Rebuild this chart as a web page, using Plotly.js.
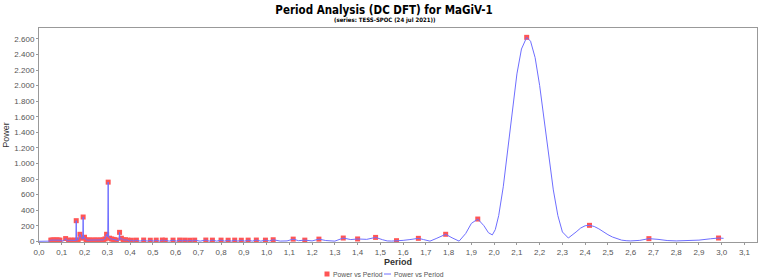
<!DOCTYPE html>
<html>
<head>
<meta charset="utf-8">
<script src="https://cdn.plot.ly/plotly-3.0.1.min.js"></script>
<style>
html,body{margin:0;padding:0;background:#fff;}
#chart{width:763px;height:280px;}
</style>
</head>
<body>
<div id="chart"></div>
<script>
// ---- Data ----
const chartTitle = "Period Analysis (DC DFT) for MaGiV-1";
const chartSubtitle = "(series: TESS-SPOC (24 jul 2021))";
const xLabel = "Period";
const yLabel = "Power";
const seriesName = "Power vs Period";

// Marked local maxima (red squares)
const peakPeriod = [0.052,0.057,0.062,0.067,0.072,0.077,0.082,0.087,0.092,
  0.117,0.130,0.140,0.150,0.158,0.1636,0.172,0.180,0.187,0.194,0.200,
  0.207,0.215,0.222,0.230,0.238,0.245,0.253,0.260,0.268,0.275,0.283,0.290,
  0.297,0.304,0.310,0.318,0.325,0.333,0.340,0.354,0.362,0.370,0.380,0.390,
  0.406,0.428,0.460,0.489,0.515,0.542,0.555,
  0.589,0.618,0.640,0.662,0.684,0.733,0.762,0.800,0.831,0.860,0.889,0.919,
  0.955,0.995,1.029,1.117,1.168,1.230,1.337,1.400,1.479,1.571,1.667,1.787,
  1.928,2.143,2.419,2.680,2.986];
const peakPower = [15,14,16,15,14,16,15,14,15,
  35,14,15,13,15,265,20,90,40,312,52,
  18,15,16,15,14,16,15,14,16,15,18,30,
  90,760,40,30,25,20,15,115,40,18,20,15,
  14,15,16,14,15,16,14,
  15,16,15,14,15,16,15,15,14,15,14,15,
  16,15,20,28,15,28,42,30,50,8,38,90,
  286,2620,205,34,42];

// Power spectrum curve (blue line)
const curvePeriod = [0.000,0.045,0.052,0.057,0.062,0.067,0.072,0.077,0.082,0.087,0.092,
  0.100,0.110,0.117,0.124,0.130,0.140,0.150,0.158,0.162,0.1636,0.1652,0.172,0.180,
  0.186,0.1925,0.194,0.1955,0.200,0.207,0.215,0.222,0.230,0.238,0.245,0.253,0.260,
  0.268,0.275,0.283,0.290,0.297,0.302,0.304,0.306,0.310,0.318,0.325,0.333,0.340,
  0.350,0.352,0.354,0.356,0.362,0.370,0.380,0.390,0.398,0.406,0.417,0.428,0.444,
  0.460,0.475,0.489,0.502,0.515,0.530,0.542,0.548,0.555,0.572,0.589,0.603,0.618,
  0.629,0.640,0.651,0.662,0.673,0.684,0.708,0.733,0.748,0.762,0.781,0.800,0.815,
  0.831,0.845,0.860,0.874,0.889,0.904,0.919,0.937,0.955,0.975,0.995,1.012,1.029,
  1.060,1.090,1.117,1.140,1.168,1.200,1.230,1.260,1.300,1.337,1.370,1.400,1.440,
  1.479,1.510,1.530,1.550,1.571,1.600,1.630,1.667,1.690,1.718,1.745,1.770,1.787,
  1.815,1.846,1.875,1.900,1.928,1.955,1.975,1.992,2.005,2.020,2.040,2.060,2.080,
  2.100,2.120,2.143,2.160,2.180,2.200,2.220,2.240,2.260,2.280,2.300,2.326,2.340,
  2.360,2.380,2.400,2.419,2.440,2.460,2.480,2.500,2.520,2.540,2.560,2.580,2.600,
  2.640,2.680,2.720,2.760,2.800,2.850,2.900,2.950,2.986,3.008];
const curvePower = [0,2,15,14,16,15,14,16,15,14,15,
  3,8,35,5,14,15,13,15,12,265,14,20,90,
  40,30,312,40,52,18,15,16,15,14,16,15,14,
  16,15,18,30,90,60,760,50,40,30,25,20,15,
  8,20,115,20,40,18,20,15,2,14,2,15,2,
  16,2,14,2,15,2,16,3,14,2,15,2,16,
  2,15,2,14,2,15,2,16,2,15,2,15,2,
  14,2,15,2,14,2,15,2,16,2,15,5,20,
  3,5,28,8,15,5,28,10,2,42,22,30,25,
  50,20,5,3,4,12,22,38,22,2,35,70,90,
  45,2,100,230,286,200,110,82,150,330,700,1180,1700,
  2150,2470,2620,2570,2360,2000,1550,1080,660,330,120,42,70,
  120,170,200,205,190,160,120,85,55,30,15,8,5,
  12,34,25,10,5,6,15,32,42,38];

// ---- Chart ----
const markerColor = "#ff5555";
const lineColor = "#6e6eff";
const sans = "'Liberation Sans', Arial, sans-serif";
const narrow = "'DejaVu Sans Condensed', 'Liberation Sans', sans-serif";
const tickFont = {family: sans, size: 8, color: "#555"};

// plot-area geometry (pixels) used to place title block and hand-made legend
const M = {l: 39, r: 6, t: 28, b: 38};
const PW = 763 - M.l - M.r, PH = 280 - M.t - M.b;
const px = v => (v - M.l) / PW;
const py = v => (280 - M.b - v) / PH;

const traces = [
  {
    x: peakPeriod, y: peakPower, type: "scatter", mode: "markers",
    name: seriesName, showlegend: false,
    marker: {symbol: "square", size: 5, color: markerColor}
  },
  {
    x: curvePeriod, y: curvePower, type: "scatter", mode: "lines",
    name: seriesName, showlegend: false,
    line: {color: lineColor, width: 1}
  }
];

const legendY = 274;
const legendFont = {family: sans, size: 6.8, color: "#555"};
const layout = {
  width: 763, height: 280,
  margin: M,
  paper_bgcolor: "#fff", plot_bgcolor: "#fff",
  separators: ",.",
  showlegend: false,
  title: {
    text: "<b>" + chartTitle + "</b>",
    font: {family: narrow, size: 11.5, color: "#000"},
    x: 384 / 763, xref: "container", xanchor: "center",
    y: 1 - 10 / 280, yref: "container", yanchor: "middle"
  },
  annotations: [
    {
      text: "<b>" + chartSubtitle + "</b>",
      xref: "paper", yref: "paper", x: px(384), y: py(20.5),
      xanchor: "center", yanchor: "middle", showarrow: false,
      font: {family: narrow, size: 6, color: "#000"}
    },
    {
      text: seriesName, xref: "paper", yref: "paper",
      x: px(330.5), y: py(legendY), xanchor: "left", yanchor: "middle",
      showarrow: false, font: legendFont
    },
    {
      text: seriesName, xref: "paper", yref: "paper",
      x: px(392), y: py(legendY), xanchor: "left", yanchor: "middle",
      showarrow: false, font: legendFont
    }
  ],
  shapes: [
    {type: "rect", xref: "paper", yref: "paper",
     x0: px(324.5), x1: px(329.5), y0: py(legendY + 2.5), y1: py(legendY - 2.5),
     fillcolor: markerColor, line: {width: 0}},
    {type: "line", xref: "paper", yref: "paper",
     x0: px(384), x1: px(391), y0: py(legendY), y1: py(legendY),
     line: {color: lineColor, width: 1}}
  ],
  xaxis: {
    range: [0, 3.155],
    tickmode: "linear", tick0: 0, dtick: 0.1, tickformat: ".1f",
    ticks: "outside", ticklen: 2, tickcolor: "#999",
    showgrid: false, zeroline: false,
    showline: true, linecolor: "#999", linewidth: 1, mirror: true,
    tickfont: tickFont,
    title: {text: "<b>" + xLabel + "</b>", font: {family: sans, size: 9, color: "#333"}, standoff: 1},
    automargin: false
  },
  yaxis: {
    range: [-9, 2740],
    tickmode: "linear", tick0: 0, dtick: 200, separatethousands: true,
    ticks: "outside", ticklen: 2, tickcolor: "#999",
    showgrid: false, zeroline: false,
    showline: true, linecolor: "#999", linewidth: 1, mirror: true,
    tickfont: tickFont,
    title: {text: yLabel, font: {family: sans, size: 9, color: "#333"}, standoff: 3},
    automargin: false
  }
};

Plotly.newPlot("chart", traces, layout, {staticPlot: true, displayModeBar: false});
</script>
</body>
</html>
